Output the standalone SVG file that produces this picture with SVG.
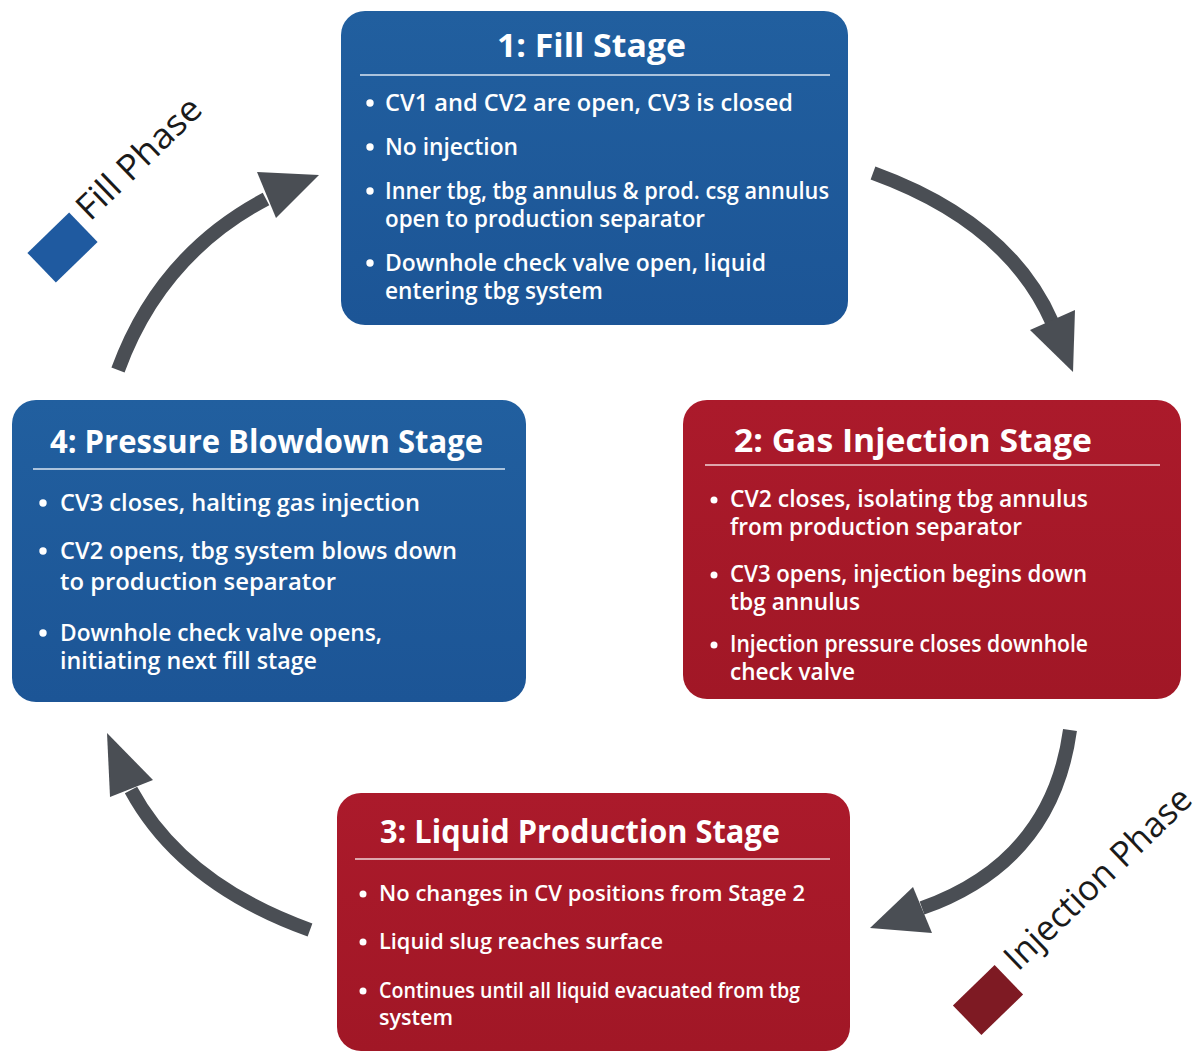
<svg xmlns="http://www.w3.org/2000/svg" width="1203" height="1053" viewBox="0 0 1203 1053">
<defs>
<linearGradient id="gBlue" x1="0" y1="0" x2="0" y2="1"><stop offset="0" stop-color="#215f9f"/><stop offset="1" stop-color="#1c5596"/></linearGradient>
<linearGradient id="gRed" x1="0" y1="0" x2="0" y2="1"><stop offset="0" stop-color="#ab1a2b"/><stop offset="1" stop-color="#a11726"/></linearGradient>
<style>
.blue{fill:url(#gBlue);}
.red{fill:url(#gRed);}
.title{font-family:"Open Sans","Liberation Sans",sans-serif;font-weight:700;font-size:33px;fill:#fff;}
.body{font-family:"Open Sans","Liberation Sans",sans-serif;font-weight:600;font-size:22.5px;fill:#fff;}
.b3{font-size:22px;}
.sep{stroke:#dbe6f2;stroke-width:1.6;}
.sepr{stroke:#f0d6d9;stroke-width:1.6;}
.dot{fill:#fff;}
.arr{fill:none;stroke:#4a4e54;stroke-width:14;stroke-linecap:butt;}
.head{fill:#4a4e54;}
.phase{font-family:"Open Sans","Liberation Sans",sans-serif;font-size:35px;fill:#1a1a1a;}
</style>
</defs>
<rect width="1203" height="1053" fill="#ffffff"/>

<g id="connectors">
<path class="arr" d="M118,370 Q160,255 266,199"/>
<polygon class="head" points="319,175 257,172 276,218"/>
<path class="arr" d="M873,173 Q1008,222 1052,322"/>
<polygon class="head" points="1073,372 1030,330 1075,310"/>
<path class="arr" d="M1070,730 Q1052,862 922,908"/>
<polygon class="head" points="870,928 913,887 932,933"/>
<path class="arr" d="M310,930 Q182,884 131,790"/>
<polygon class="head" points="107,733 110,797 153,780"/>
</g>

<g id="fill-phase">
<rect x="-29" y="-20.5" width="58" height="41" fill="#1f5aa0" transform="translate(62.5,247.5) rotate(-44)"/>
<text class="phase" transform="translate(90,222) rotate(-44)" textLength="159" lengthAdjust="spacingAndGlyphs">Fill Phase</text>
</g>

<g id="injection-phase">
<rect x="-29" y="-20.5" width="58" height="41" fill="#7e1a23" transform="translate(988,1000) rotate(-44)"/>
<text class="phase" transform="translate(1018,972) rotate(-44)" textLength="245" lengthAdjust="spacingAndGlyphs">Injection Phase</text>
</g>

<g id="stage1">
<rect class="blue" x="341" y="11" width="507" height="314" rx="24"/>
<text class="title" x="497" y="57" textLength="189" lengthAdjust="spacingAndGlyphs">1: Fill Stage</text>
<line class="sep" x1="360" y1="75" x2="830" y2="75"/>
<circle class="dot" cx="370" cy="103" r="3.7"/>
<text class="body" x="385" y="111" textLength="408" lengthAdjust="spacingAndGlyphs">CV1 and CV2 are open, CV3 is closed</text>
<circle class="dot" cx="370" cy="147" r="3.7"/>
<text class="body" x="385" y="155" textLength="133" lengthAdjust="spacingAndGlyphs">No injection</text>
<circle class="dot" cx="370" cy="191" r="3.7"/>
<text class="body" x="385" y="199" textLength="444" lengthAdjust="spacingAndGlyphs">Inner tbg, tbg annulus &amp; prod. csg annulus</text>
<text class="body" x="385" y="227" textLength="320" lengthAdjust="spacingAndGlyphs">open to production separator</text>
<circle class="dot" cx="370" cy="263" r="3.7"/>
<text class="body" x="385" y="271" textLength="381" lengthAdjust="spacingAndGlyphs">Downhole check valve open, liquid</text>
<text class="body" x="385" y="299" textLength="218" lengthAdjust="spacingAndGlyphs">entering tbg system</text>
</g>

<g id="stage2">
<rect class="red" x="683" y="400" width="498" height="299" rx="24"/>
<text class="title" x="734" y="452" textLength="358" lengthAdjust="spacingAndGlyphs">2: Gas Injection Stage</text>
<line class="sepr" x1="705" y1="465" x2="1160" y2="465"/>
<circle class="dot" cx="714" cy="500" r="3.5"/>
<text class="body" x="730" y="507" textLength="358" lengthAdjust="spacingAndGlyphs">CV2 closes, isolating tbg annulus</text>
<text class="body" x="730" y="535" textLength="292" lengthAdjust="spacingAndGlyphs">from production separator</text>
<circle class="dot" cx="714" cy="575" r="3.5"/>
<text class="body" x="730" y="582" textLength="357" lengthAdjust="spacingAndGlyphs">CV3 opens, injection begins down</text>
<text class="body" x="730" y="610" textLength="130" lengthAdjust="spacingAndGlyphs">tbg annulus</text>
<circle class="dot" cx="714" cy="645" r="3.5"/>
<text class="body" x="730" y="652" textLength="358" lengthAdjust="spacingAndGlyphs">Injection pressure closes downhole</text>
<text class="body" x="730" y="680" textLength="125" lengthAdjust="spacingAndGlyphs">check valve</text>
</g>

<g id="stage3">
<rect class="red" x="337" y="793" width="513" height="258" rx="24"/>
<text class="title" x="380" y="843" textLength="400" lengthAdjust="spacingAndGlyphs">3: Liquid Production Stage</text>
<line class="sepr" x1="355" y1="859" x2="830" y2="859"/>
<circle class="dot" cx="363" cy="894" r="3.5"/>
<text class="body b3" x="379" y="901" textLength="426" lengthAdjust="spacingAndGlyphs">No changes in CV positions from Stage 2</text>
<circle class="dot" cx="363" cy="942" r="3.5"/>
<text class="body b3" x="379" y="949" textLength="284" lengthAdjust="spacingAndGlyphs">Liquid slug reaches surface</text>
<circle class="dot" cx="363" cy="991" r="3.5"/>
<text class="body b3" x="379" y="998" textLength="421" lengthAdjust="spacingAndGlyphs">Continues until all liquid evacuated from tbg</text>
<text class="body b3" x="379" y="1025" textLength="74" lengthAdjust="spacingAndGlyphs">system</text>
</g>

<g id="stage4">
<rect class="blue" x="12" y="400" width="514" height="302" rx="24"/>
<text class="title" x="50" y="453" textLength="433" lengthAdjust="spacingAndGlyphs">4: Pressure Blowdown Stage</text>
<line class="sep" x1="33" y1="469" x2="505" y2="469"/>
<circle class="dot" cx="43" cy="503" r="3.7"/>
<text class="body" x="60" y="511" textLength="360" lengthAdjust="spacingAndGlyphs">CV3 closes, halting gas injection</text>
<circle class="dot" cx="43" cy="551" r="3.7"/>
<text class="body" x="60" y="559" textLength="397" lengthAdjust="spacingAndGlyphs">CV2 opens, tbg system blows down</text>
<text class="body" x="60" y="590" textLength="276" lengthAdjust="spacingAndGlyphs">to production separator</text>
<circle class="dot" cx="43" cy="633" r="3.7"/>
<text class="body" x="60" y="641" textLength="322" lengthAdjust="spacingAndGlyphs">Downhole check valve opens,</text>
<text class="body" x="60" y="669" textLength="257" lengthAdjust="spacingAndGlyphs">initiating next fill stage</text>
</g>
</svg>
